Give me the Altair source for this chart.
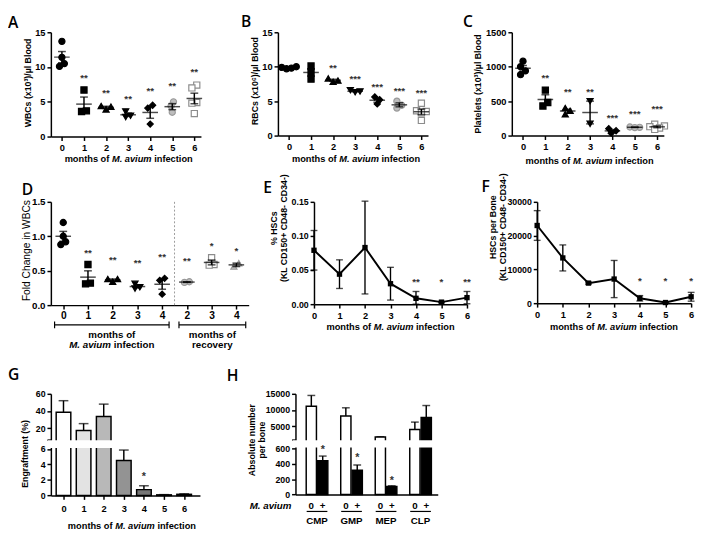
import json
import altair as alt
import numpy as np
import pandas as pd

FONT = "Liberation Sans"
LFONT = "Open Sans"

# ---------------- data ----------------
months = [0, 1, 2, 3, 4, 5, 6]

# A: WBCs (x10^3)/ul blood
wbc = [
    [13.7, 11.4, 10.5, 10.1],
    [6.7, 3.7, 3.6],
    [4.4, 4.3, 3.9],
    [3.6, 3.0, 2.8],
    [4.5, 4.1, 1.8],
    [5.0, 4.4, 3.5],
    [7.4, 7.0, 4.9, 4.8, 3.3],
]
wbc_sig = ["", "**", "**", "**", "**", "**", "**"]
wbc_sig_y = [0, 8.4, 6.2, 5.4, 6.5, 7.2, 9.3]

# B: RBCs (x10^6)/ul blood
rbc = [
    [10.0, 9.9, 9.8, 9.7],
    [10.1, 9.2, 8.2],
    [8.3, 8.0, 7.8],
    [6.6, 6.4, 6.3],
    [5.6, 5.2, 4.6],
    [5.0, 4.4, 4.0],
    [4.7, 3.6, 3.5, 3.3, 2.2],
]
rbc_sig = ["", "", "**", "***", "***", "***", "***"]
rbc_sig_y = [0, 0, 9.8, 8.2, 7.1, 6.4, 6.2]

# C: Platelets (x10^3)/ul blood
platelets = [
    [1080, 1000, 940, 885],
    [660, 480, 430],
    [400, 360, 310],
    [500, 170],
    [100, 70, 35],
    [125, 120, 116],
    [165, 140, 130, 110, 90],
]
plt_sig = ["", "**", "**", "**", "***", "***", "***"]
plt_sig_y = [0, 830, 632, 632, 250, 311, 382]

# D: fold change in WBCs (infection 0-4, recovery 2-4)
fold_labels = ["0", "1", "2", "3", "4", "2", "3", "4"]
fold = [
    [1.20, 1.00, 0.92, 0.88],
    [0.59, 0.32, 0.31],
    [0.38, 0.38, 0.34],
    [0.31, 0.26, 0.24],
    [0.39, 0.36, 0.16],
    [0.34, 0.33],
    [0.69, 0.59, 0.58],
    [0.61, 0.56],
]
fold_sig = ["", "**", "**", "**", "**", "**", "*", "*"]
fold_sig_y = [0, 0.76, 0.66, 0.61, 0.70, 0.64, 0.86, 0.78]

# E: % HSCs
hsc_pct = [0.079, 0.044, 0.083, 0.030, 0.0086, 0.003, 0.0096]
hsc_pct_err = [0.029, 0.021, 0.068, 0.024, 0.010, 0.001, 0.009]
hsc_pct_sig = ["", "", "", "", "**", "*", "**"]
hsc_pct_sig_y = [0, 0, 0, 0, 0.033, 0.033, 0.033]

# F: HSCs per bone
hsc_num = [23000, 13400, 5950, 7150, 1450, 200, 1900]
hsc_num_err = [4400, 3850, 300, 5500, 800, 150, 1300]
hsc_num_sig = ["", "", "", "", "*", "*", "*"]
hsc_num_sig_y = [0, 0, 0, 0, 6400, 6400, 6400]

# G: engraftment (%)
engraft = [38.5, 17.3, 33.5, 4.5, 0.75, 0.08, 0.15]
engraft_err = [13.5, 8.0, 14.5, 1.35, 0.5, 0.03, 0.06]
engraft_sig = ["", "", "", "", "*", "", ""]
engraft_sig_y = [0, 0, 0, 0, 2.4, 0, 0]

# H: absolute number per bone
cells = ["CMP", "GMP", "MEP", "CLP"]
prog_ctrl = [11200, 8200, 1700, 4000]
prog_ctrl_err = [3300, 2500, 100, 2300]
prog_inf = [440, 315, 105, 7700]
prog_inf_err = [60, 70, 8, 3700]
prog_inf_sig = ["*", "*", "*", ""]
prog_inf_sig_y = [584, 477, 169, 0]

# ---------------- styles ----------------
month_style = [
    ("circle", "black", "black"),
    ("square", "black", "black"),
    ("triangle-up", "black", "black"),
    ("triangle-down", "black", "black"),
    ("diamond", "black", "black"),
    ("circle", "#bdbdbd", "#9a9a9a"),
    ("square", "white", "#8c8c8c"),
]
fold_style = month_style[:5] + [
    ("circle", "#bdbdbd", "#9a9a9a"),
    ("square", "white", "#8c8c8c"),
    ("triangle-up", "#bdbdbd", "#9a9a9a"),
]
engraft_fill = ["white", "#e3e3e3", "#b8b8b8", "#939393", "#767676", "#555555", "#555555"]
STAR = "#333333"

DUMMY = alt.Data(values=[{"k": 0}])


def txt(text, x, y, size=9.5, weight="bold", style="normal", align="center",
        baseline="middle", angle=0, font=FONT, lh=None):
    kw = dict(text=text, align=align, baseline=baseline, font=font, fontSize=size,
              fontWeight=weight, fontStyle=style, color="black")
    if angle:
        kw["angle"] = angle
    if "\n" in text:
        kw["lineBreak"] = "\n"
        if lh:
            kw["lineHeight"] = lh
    return alt.Chart(DUMMY).mark_text(**kw).encode(x=alt.value(x), y=alt.value(y))


def bounds(x0, x1, y0, y1):
    return alt.Chart(DUMMY).mark_rect(opacity=0).encode(
        x=alt.value(x0), x2=alt.value(x1), y=alt.value(y0), y2=alt.value(y1))


def letter(ch, x, y):
    return txt(ch, x, y, size=16, weight=600, font=LFONT, align="left", baseline="alphabetic")


def xtitle(c, y, size=9.5):
    s = size / 9.5
    return [
        txt("months of", c - 20 * s, y, size, align="right"),
        txt("M. avium", c + 3 * s, y, size, style="italic"),
        txt("infection", c + 26 * s, y, size, align="left"),
    ]


def swarm(vals, ppu, d=5.0):
    """Horizontal layout offsets (px) so that overlapping points sit side by side."""
    n = len(vals)
    order = sorted(range(n), key=lambda i: vals[i])
    placed, offs = [], [0.0] * n
    for i in order:
        y = vals[i] * ppu
        for k in [0, 0.5, -0.5, 1, -1, 1.5, -1.5, 2, -2, 2.5, -2.5]:
            x = k * d
            if all((x - px) ** 2 + (y - py) ** 2 >= (0.95 * d) ** 2 for px, py in placed):
                break
        placed.append((x, y))
        offs[i] = x
    clusters, cur = [], [order[0]]
    for a, b in zip(order, order[1:]):
        if (vals[b] - vals[a]) * ppu < d:
            cur.append(b)
        else:
            clusters.append(cur)
            cur = [b]
    clusters.append(cur)
    for cl in clusters:
        c = (max(offs[i] for i in cl) + min(offs[i] for i in cl)) / 2
        for i in cl:
            offs[i] -= c
    return offs


def scatter_panel(groups, xs, styles, sig, sig_y, xdom, ydom, yvals, yfmt, w, h,
                  xlabels=None, lab_size=9.5, ylab_size=9.5):
    ppx = w / (xdom[1] - xdom[0])
    ppy = h / (ydom[1] - ydom[0])
    pts, summ, caps, stars = [], [], [], []
    for vals, x, st, s, sy in zip(groups, xs, styles, sig, sig_y):
        for v, o in zip(vals, swarm(vals, ppy)):
            pts.append({"x": x + o / ppx, "v": v, "shape": st[0], "fill": st[1], "stroke": st[2]})
        a = np.array(vals, float)
        m = a.mean()
        se = a.std(ddof=1) / np.sqrt(len(a))
        summ.append({"x": x, "m": m, "lo": m - se, "hi": m + se})
        caps += [{"x": x, "c": m - se}, {"x": x, "c": m + se}]
        if s:
            stars.append({"x": x, "y": sy, "s": s})
    xsc = alt.Scale(domain=xdom, nice=False, zero=False)
    ysc = alt.Scale(domain=ydom, nice=False, zero=False)
    if xlabels:
        xax = alt.Axis(values=xs, title=None, labelFontSize=lab_size, labelOverlap=False,
                       labelExpr=json.dumps(xlabels) + "[datum.value]")
    else:
        xax = alt.Axis(values=xs, title=None, format="d", labelFontSize=lab_size, labelOverlap=False)
    yax = alt.Axis(values=yvals, title=None, format=yfmt, labelFontSize=ylab_size, labelOverlap=False)

    def X(f):
        return alt.X(f, type="quantitative", scale=xsc, axis=xax)

    def Y(f):
        return alt.Y(f, type="quantitative", scale=ysc, axis=yax)

    sd = pd.DataFrame(summ)
    layers = [
        alt.Chart(pd.DataFrame(pts)).mark_point(filled=True, size=40, strokeWidth=1.2, opacity=1).encode(
            x=X("x"), y=Y("v"),
            shape=alt.Shape("shape:N", scale=None),
            fill=alt.Fill("fill:N", scale=None),
            stroke=alt.Stroke("stroke:N", scale=None)),
        alt.Chart(sd).mark_rule(color="black", strokeWidth=1.5).encode(x=X("x"), y=Y("lo"), y2="hi"),
        alt.Chart(pd.DataFrame(caps)).mark_tick(orient="horizontal", size=8, thickness=1.5, color="black").encode(
            x=X("x"), y=Y("c")),
        alt.Chart(sd).mark_tick(orient="horizontal", size=16, thickness=1.5, color="black").encode(
            x=X("x"), y=Y("m")),
        alt.Chart(pd.DataFrame(stars)).mark_text(font=FONT, fontSize=10, fontWeight="bold",
                                                 baseline="middle", color=STAR).encode(
            x=X("x"), y=Y("y"), text="s:N"),
    ]
    return layers, X, Y


def line_panel(mean, err, sig, sig_y, ydom, yvals, yfmt, w, h, ylab_size=9):
    df = pd.DataFrame({"x": months, "m": mean,
                       "lo": [max(m - e, 0) for m, e in zip(mean, err)],
                       "hi": [m + e for m, e in zip(mean, err)]})
    caps = pd.DataFrame([{"x": x, "c": c} for x, lo, hi in zip(months, df.lo, df.hi) for c in (lo, hi)])
    stars = pd.DataFrame([{"x": x, "y": y, "s": s} for x, y, s in zip(months, sig_y, sig) if s])
    xsc = alt.Scale(domain=[0, 6], nice=False, zero=False)
    ysc = alt.Scale(domain=ydom, nice=False, zero=False)
    xax = alt.Axis(values=months, title=None, format="d", labelFontSize=9.5, labelPadding=3,
                   labelOverlap=False)
    yax = alt.Axis(values=yvals, title=None, format=yfmt, labelFontSize=ylab_size, labelOverlap=False)

    def X(f):
        return alt.X(f, type="quantitative", scale=xsc, axis=xax)

    def Y(f):
        return alt.Y(f, type="quantitative", scale=ysc, axis=yax)

    return [
        alt.Chart(df).mark_rule(color="black", strokeWidth=1.4).encode(x=X("x"), y=Y("lo"), y2="hi"),
        alt.Chart(caps).mark_tick(orient="horizontal", size=7, thickness=1.4, color="black").encode(
            x=X("x"), y=Y("c")),
        alt.Chart(df).mark_line(color="black", strokeWidth=2).encode(x=X("x"), y=Y("m")),
        alt.Chart(df).mark_point(filled=True, shape="square", size=30, color="black", opacity=1).encode(
            x=X("x"), y=Y("m")),
        alt.Chart(stars).mark_text(font=FONT, fontSize=10, fontWeight="bold", baseline="middle",
                                   color=STAR).encode(x=X("x"), y=Y("y"), text="s:N"),
    ]


# ---------------- Row 1 ----------------
wA, hA = 154, 107
lA, _, _ = scatter_panel(wbc, months, month_style, wbc_sig, wbc_sig_y, [-0.5, 6.3], [0, 15],
                         [0, 5, 10, 15], "d", wA, hA)
A = alt.layer(bounds(-44, 184, -17, 143), *lA, letter("A", -44, -4),
              txt("WBCs (x10³)/µl Blood", -23, 52, 9, angle=270),
              *xtitle(80, 130)).properties(width=wA, height=hA)

wB, hB = 154, 106
lB, _, _ = scatter_panel(rbc, months, month_style, rbc_sig, rbc_sig_y, [-0.5, 6.3], [0, 15],
                         [0, 5, 10, 15], "d", wB, hB)
B = alt.layer(bounds(-49, 183, -18, 142), *lB, letter("B", -38, -5),
              txt("RBCs (x10⁶)/µl Blood", -23.3, 50, 9, angle=270),
              *xtitle(80.3, 130)).properties(width=wB, height=hB)

wC, hC = 156, 106
lC, _, _ = scatter_panel(platelets, months, month_style, plt_sig, plt_sig_y, [-0.5, 6.3], [0, 1500],
                         [0, 500, 1000, 1500], "d", wC, hC)
C = alt.layer(bounds(-57, 175, -18, 142), *lC, letter("C", -50, -5),
              txt("Platelets (x10³)/µl Blood", -35, 53, 9, angle=270),
              *xtitle(80, 132)).properties(width=wC, height=hC)

# ---------------- Row 2 ----------------
wD, hD = 203, 106
fold_x = list(range(len(fold)))
lD, XD, YD = scatter_panel(fold, fold_x, fold_style, fold_sig, fold_sig_y, [-0.5, 7.5], [0, 1.5],
                           [0, 0.5, 1.0, 1.5], ".1f", wD, hD, xlabels=fold_labels,
                           lab_size=10.5, ylab_size=10)
dot_df = pd.DataFrame({"x": [4.5], "y0": [0.0], "y1": [1.5]})
dot = alt.Chart(dot_df).mark_rule(color="#9a9a9a", strokeWidth=1, strokeDash=[2, 2]).encode(
    x=XD("x"), y=YD("y0"), y2="y1")
br_y = hD + 20.3
br_df = pd.DataFrame({"a": [-0.35, 4.68], "b": [4.28, 7.38]})
br_df["c"] = (br_df.a + br_df.b) / 2
br_end = pd.DataFrame({"e": list(br_df.a) + list(br_df.b)})
bracket = alt.Chart(br_df).mark_rule(color="black", strokeWidth=1.2).encode(
    x=XD("a"), x2="b", y=alt.value(br_y))
bracket_end = alt.Chart(br_end).mark_rule(color="black", strokeWidth=1.2).encode(
    x=XD("e"), y=alt.value(br_y - 3.5), y2=alt.value(br_y + 3.5))


def dtext(text, row, y, align="center", dx=0, style="normal"):
    return alt.Chart(br_df.iloc[[row]]).mark_text(
        text=text, align=align, baseline="middle", font=FONT, fontSize=10,
        fontWeight="bold", fontStyle=style, dx=dx, color="black").encode(x=XD("c"), y=alt.value(y))


D = alt.layer(bounds(-30, 214, -30, 157), dot, *lD, bracket, bracket_end,
              dtext("months of", 0, hD + 30.3),
              dtext("M. avium", 0, hD + 41, align="right", dx=-1, style="italic"),
              dtext("infection", 0, hD + 41, align="left", dx=2),
              dtext("months of", 1, hD + 30.3),
              dtext("recovery", 1, hD + 41),
              letter("D", -30, -7),
              txt("Fold Change in WBCs", -24.7, 50, 10.5, weight="normal", angle=270),
              ).properties(width=wD, height=hD)

wE, hE = 157, 105
lE = line_panel(hsc_pct, hsc_pct_err, hsc_pct_sig, hsc_pct_sig_y, [0, 0.15], [0, 0.05, 0.10, 0.15],
                ".2f", wE, hE)
E = alt.layer(bounds(-56, 166, -30, 157), *lE, letter("E", -52, -9),
              txt("% HSCs\n(KL CD150+ CD48- CD34-)", -40.5, 27, 9, angle=270, lh=10),
              *xtitle(78.7, 129)).properties(width=wE, height=hE)

wF, hF = 158, 104
lF = line_panel(hsc_num, hsc_num_err, hsc_num_sig, hsc_num_sig_y, [0, 30000], [0, 10000, 20000, 30000],
                "d", wF, hF)
F = alt.layer(bounds(-63, 163, -31, 156), *lF, letter("F", -57, -10),
              txt("HSCs per Bone\n(KL CD150+ CD48- CD34-)", -45, 26, 9, angle=270, lh=10),
              *xtitle(79, 128)).properties(width=wF, height=hF)

# ---------------- Row 3 ----------------
wG, hG = 153, 104.3
g_df = pd.DataFrame({"x": months, "v": engraft,
                     "hi": [v + e for v, e in zip(engraft, engraft_err)], "fill": engraft_fill})
g_st = pd.DataFrame([{"x": x, "y": y, "s": s} for x, y, s in zip(months, engraft_sig_y, engraft_sig) if s])
gxs = alt.Scale(domain=[-0.385, 6.545], nice=False, zero=False)
gys = alt.Scale(domain=[0, 6, 7, 60], range=[hG, hG - 47.8, hG - 57.6, 0], nice=False, zero=False)
gxa = alt.Axis(values=months, title=None, format="d", labelFontSize=9.5, labelPadding=4, labelOverlap=False)
gya = alt.Axis(values=[0, 2, 4, 6, 7, 20, 40, 60], title=None, format="d", labelFontSize=9,
               labelOverlap=False, labelExpr="datum.value == 7 ? '' : datum.label")


def GX(f):
    return alt.X(f, type="quantitative", scale=gxs, axis=gxa)


def GY(f):
    return alt.Y(f, type="quantitative", scale=gys, axis=gya)


G = alt.layer(
    bounds(-44, 176, -39, 138),
    alt.Chart(g_df).mark_rule(color="black", strokeWidth=1.5).encode(x=GX("x"), y=GY("v"), y2="hi"),
    alt.Chart(g_df).mark_tick(orient="horizontal", size=10, thickness=1.5, color="black").encode(
        x=GX("x"), y=GY("hi")),
    alt.Chart(g_df).mark_bar(size=15, stroke="black", strokeWidth=1.5).encode(
        x=GX("x"), y=GY("v"), y2=alt.datum(0), fill=alt.Fill("fill:N", scale=None)),
    alt.Chart(DUMMY).mark_rect(color="white").encode(
        x=alt.value(-3), x2=alt.value(wG + 3), y=alt.value(hG - 56.6), y2=alt.value(hG - 48.8)),
    alt.Chart(g_st).mark_text(font=FONT, fontSize=11, fontWeight="bold", baseline="middle",
                              color=STAR).encode(x=GX("x"), y=GY("y"), text="s:N"),
    letter("G", -44, -14),
    txt("Engraftment (%)", -26, 61.7, 9, angle=270),
    *xtitle(83.3, 135.3),
).properties(width=wG, height=hG)

wH, hH = 146, 103.3
off = 0.165
h_rows = []
for i, c in enumerate(cells):
    h_rows.append({"x": i - off, "v": prog_ctrl[i], "hi": prog_ctrl[i] + prog_ctrl_err[i],
                   "fill": "white", "lab": "0"})
    h_rows.append({"x": i + off, "v": prog_inf[i], "hi": prog_inf[i] + prog_inf_err[i],
                   "fill": "black", "lab": "+"})
h_df = pd.DataFrame(h_rows)
h_st = pd.DataFrame([{"x": i + off, "y": y, "s": s}
                     for i, (y, s) in enumerate(zip(prog_inf_sig_y, prog_inf_sig)) if s])
h_names = pd.DataFrame({"x": list(range(len(cells))), "name": cells})
hxs = alt.Scale(domain=[-0.483, 3.357], nice=False, zero=False)
hys = alt.Scale(domain=[0, 600, 1000, 15000], range=[hH, hH - 47.3, hH - 56.6, 0], nice=False, zero=False)
hxa = alt.Axis(title=None, labels=False, ticks=False, values=[])
hya = alt.Axis(values=[0, 200, 400, 600, 1000, 5000, 10000, 15000], title=None, format="d",
               labelFontSize=9, labelOverlap=False, labelExpr="datum.value == 1000 ? '' : datum.label")


def HX(f):
    return alt.X(f, type="quantitative", scale=hxs, axis=hxa)


def HY(f):
    return alt.Y(f, type="quantitative", scale=hys, axis=hya)


H = alt.layer(
    bounds(-74.5, 397.5, -40, 137),
    alt.Chart(h_df).mark_rule(color="black", strokeWidth=1.5).encode(x=HX("x"), y=HY("v"), y2="hi"),
    alt.Chart(h_df).mark_tick(orient="horizontal", size=8, thickness=1.5, color="black").encode(
        x=HX("x"), y=HY("hi")),
    alt.Chart(h_df).mark_bar(size=10.5, stroke="black", strokeWidth=1.5).encode(
        x=HX("x"), y=HY("v"), y2=alt.datum(0), fill=alt.Fill("fill:N", scale=None)),
    alt.Chart(DUMMY).mark_rect(color="white").encode(
        x=alt.value(-3), x2=alt.value(wH + 3), y=alt.value(hH - 55.6), y2=alt.value(hH - 48.3)),
    alt.Chart(h_st).mark_text(font=FONT, fontSize=11, fontWeight="bold", baseline="middle",
                              color=STAR).encode(x=HX("x"), y=HY("y"), text="s:N"),
    alt.Chart(h_df).mark_text(font=FONT, fontSize=10, fontWeight="bold", baseline="middle",
                              color="black").encode(x=HX("x"), y=alt.value(hH + 12), text="lab:N"),
    alt.Chart(h_names).mark_rule(color="black", strokeWidth=1.2).encode(
        x=alt.X("lo:Q", scale=hxs, axis=hxa), x2="hi:Q", y=alt.value(hH + 17.4)).transform_calculate(
        lo="datum.x - 0.3", hi="datum.x + 0.3"),
    alt.Chart(h_names).mark_text(font=FONT, fontSize=10, fontWeight="bold", baseline="middle",
                                 color="black").encode(x=HX("x"), y=alt.value(hH + 27), text="name:N"),
    txt("M. avium", -4.2, hH + 12, 10, style="italic", align="right"),
    letter("H", -70.5, -13),
    txt("Absolute number\nper bone", -44.5, 47.5, 9, angle=270, lh=10.5),
).properties(width=wH, height=hH)

row1 = alt.hconcat(A, B, C, spacing=0)
row2 = alt.hconcat(D, E, F, spacing=0)
row3 = alt.hconcat(G, H, spacing=0)

chart = alt.vconcat(row1, row2, row3, spacing=0).properties(
    padding=0, background="white", autosize=alt.AutoSizeParams(type="pad")
).configure_view(stroke=None).configure_axis(
    labelFont=FONT, labelFontWeight="bold", labelColor="black", domainColor="black",
    tickColor="black", domainWidth=1.5, tickWidth=1.5, tickSize=4, grid=False,
    labelFlush=False, labelOverlap=False,
)

chart.save("out.html", embed_options={"renderer": "svg", "actions": False})
